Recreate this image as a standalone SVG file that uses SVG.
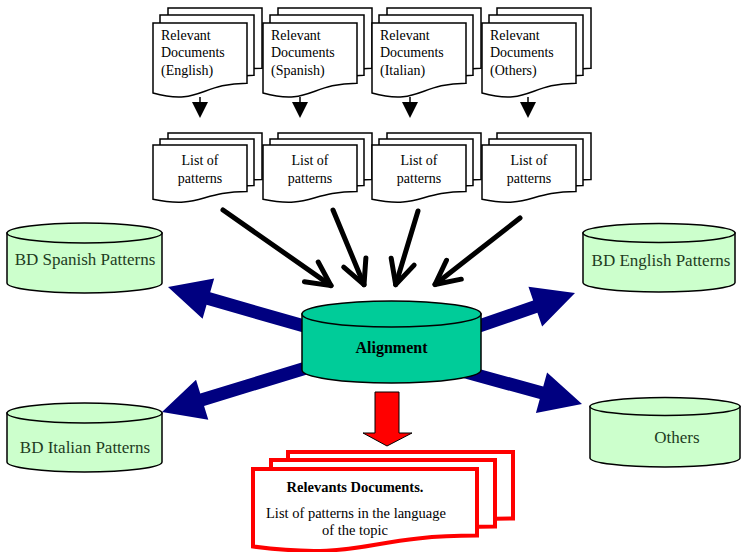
<svg xmlns="http://www.w3.org/2000/svg" width="742" height="552" viewBox="0 0 742 552">
<style>
.doc{fill:#fff;stroke:#000;stroke-width:1.5}
.rdoc{fill:#fff;stroke:#f00;stroke-width:4}
.t{font-family:"Liberation Serif","Times New Roman",serif;font-size:14px;fill:#000}
.c{text-anchor:middle}
.db{fill:#ccffcc;stroke:#000;stroke-width:1.5}
.dbt{font-family:"Liberation Serif","Times New Roman",serif;font-size:17px;fill:#1e3c1e;text-anchor:middle}
.navy{fill:#000080}
.blk{stroke:#000;stroke-width:5;fill:none;stroke-linecap:round}
.sm{stroke:#000;stroke-width:1.5}
</style>
<defs>
<marker id="open" markerUnits="userSpaceOnUse" viewBox="-30 -16 34 32" markerWidth="34" markerHeight="32" refX="0" refY="0" orient="auto">
<path d="M-24,-12 L0,0 L-24,12" fill="none" stroke="#000" stroke-width="5" stroke-linecap="round" stroke-linejoin="round"/>
</marker>
<path id="topdoc" d="M0,0 H94 V60.2 C47,60.2 47,83 0,70 Z"/>
<path id="listdoc" d="M0,0 H94 V46.5 C47,46.5 47,64.2 0,54.2 Z"/>
</defs>
<g id="connectors">
<g id="small-arrows">
<line class="sm" x1="200" y1="97" x2="200" y2="104"/><polygon points="192,102 208,102 200,118"/>
<line class="sm" x1="300" y1="97" x2="300" y2="104"/><polygon points="292,102 308,102 300,118"/>
<line class="sm" x1="410" y1="97" x2="410" y2="104"/><polygon points="402,102 418,102 410,118"/>
<line class="sm" x1="528" y1="97" x2="528" y2="104"/><polygon points="520,102 536,102 528,118"/>
</g>
<g id="pattern-arrows">
<line class="blk" x1="223" y1="210" x2="331" y2="285.6" marker-end="url(#open)"/>
<line class="blk" x1="333" y1="210" x2="364" y2="284.7" marker-end="url(#open)"/>
<line class="blk" x1="418" y1="211" x2="395.7" y2="284.6" marker-end="url(#open)"/>
<line class="blk" x1="520" y1="218" x2="435" y2="284.5" marker-end="url(#open)"/>
</g>
<g id="navy-arrows">
<polygon class="navy" transform="translate(168,287) rotate(196)" points="0,0 -42,-21 -42,-6.5 -160,-6.5 -160,6.5 -42,6.5 -42,21"/>
<polygon class="navy" transform="translate(575,293) rotate(-19)" points="0,0 -42,-21 -42,-6.5 -160,-6.5 -160,6.5 -42,6.5 -42,21"/>
<polygon class="navy" transform="translate(162,412) rotate(163)" points="0,0 -42,-21 -42,-6.5 -160,-6.5 -160,6.5 -42,6.5 -42,21"/>
<polygon class="navy" transform="translate(582,404) rotate(15.4)" points="0,0 -42,-21 -42,-6.5 -160,-6.5 -160,6.5 -42,6.5 -42,21"/>
</g>
<polygon id="red-arrow" points="375,392 399,392 399,433 412,433 387,446 363,433 375,433" fill="#f00" stroke="#000" stroke-width="1"/>
</g>
<g id="doc-english">
<use href="#topdoc" class="doc" x="168" y="8"/><use href="#topdoc" class="doc" x="160" y="15"/><use href="#topdoc" class="doc" x="153" y="23"/>
<text class="t" x="161" y="39.5">Relevant</text><text class="t" x="161" y="57">Documents</text><text class="t" x="161" y="74.5">(English)</text>
</g>
<g id="doc-spanish">
<use href="#topdoc" class="doc" x="278" y="8"/><use href="#topdoc" class="doc" x="270" y="15"/><use href="#topdoc" class="doc" x="263" y="23"/>
<text class="t" x="271" y="39.5">Relevant</text><text class="t" x="271" y="57">Documents</text><text class="t" x="271" y="74.5">(Spanish)</text>
</g>
<g id="doc-italian">
<use href="#topdoc" class="doc" x="387" y="8"/><use href="#topdoc" class="doc" x="379" y="15"/><use href="#topdoc" class="doc" x="372" y="23"/>
<text class="t" x="380" y="39.5">Relevant</text><text class="t" x="380" y="57">Documents</text><text class="t" x="380" y="74.5">(Italian)</text>
</g>
<g id="doc-others">
<use href="#topdoc" class="doc" x="497" y="8"/><use href="#topdoc" class="doc" x="489" y="15"/><use href="#topdoc" class="doc" x="482" y="23"/>
<text class="t" x="490" y="39.5">Relevant</text><text class="t" x="490" y="57">Documents</text><text class="t" x="490" y="74.5">(Others)</text>
</g>
<g id="list-english">
<use href="#listdoc" class="doc" x="168" y="133"/><use href="#listdoc" class="doc" x="160" y="139"/><use href="#listdoc" class="doc" x="153" y="145"/>
<text class="t c" x="200" y="165">List of</text><text class="t c" x="200" y="183">patterns</text>
</g>
<g id="list-spanish">
<use href="#listdoc" class="doc" x="278" y="133"/><use href="#listdoc" class="doc" x="270" y="139"/><use href="#listdoc" class="doc" x="263" y="145"/>
<text class="t c" x="310" y="165">List of</text><text class="t c" x="310" y="183">patterns</text>
</g>
<g id="list-italian">
<use href="#listdoc" class="doc" x="387" y="133"/><use href="#listdoc" class="doc" x="379" y="139"/><use href="#listdoc" class="doc" x="372" y="145"/>
<text class="t c" x="419" y="165">List of</text><text class="t c" x="419" y="183">patterns</text>
</g>
<g id="list-others">
<use href="#listdoc" class="doc" x="497" y="133"/><use href="#listdoc" class="doc" x="489" y="139"/><use href="#listdoc" class="doc" x="482" y="145"/>
<text class="t c" x="529" y="165">List of</text><text class="t c" x="529" y="183">patterns</text>
</g>
<g id="db-spanish">
<path class="db" d="M7,233 V283 A77.5,10 0 0 0 162,283 V233 Z"/><ellipse class="db" cx="84.5" cy="233" rx="77.5" ry="10"/>
<text class="dbt" x="85" y="265">BD Spanish Patterns</text>
</g>
<g id="db-english">
<path class="db" d="M583,233 V282.5 A76,9.5 0 0 0 735,282.5 V233 Z"/><ellipse class="db" cx="659" cy="233" rx="76" ry="9.5"/>
<text class="dbt" x="661" y="266">BD English Patterns</text>
</g>
<g id="db-italian">
<path class="db" d="M7,413 V462 A77.5,10 0 0 0 162,462 V413 Z"/><ellipse class="db" cx="84.5" cy="413" rx="77.5" ry="10"/>
<text class="dbt" x="85" y="453">BD Italian Patterns</text>
</g>
<g id="db-others">
<path class="db" d="M590,406.5 V458 A75,9 0 0 0 740,458 V406.5 Z"/><ellipse class="db" cx="665" cy="406.5" rx="75" ry="9"/>
<text class="dbt" x="677" y="443">Others</text>
</g>
<g id="alignment">
<path d="M302,314 V370 A89.5,13 0 0 0 481,370 V314 Z" fill="#00cc99" stroke="#000" stroke-width="1.5"/>
<ellipse cx="391.5" cy="314" rx="89.5" ry="13" fill="#00cc99" stroke="#000" stroke-width="1.5"/>
<text x="391.5" y="353" text-anchor="middle" font-family="Liberation Serif, Times New Roman, serif" font-size="16" font-weight="bold">Alignment</text>
</g>
<g id="result-doc">
<path class="rdoc" d="M288,452 H513 V518.6 C400.5,518.6 400.5,543.9 288,529.5 Z"/>
<path class="rdoc" d="M271,460 H495 V526.6 C383,526.6 383,551.9 271,537.5 Z"/>
<path class="rdoc" d="M253,469 H477 V535.6 C365,535.6 365,560.9 253,546.5 Z"/>
<text class="t c" x="355" y="492" font-size="14.5" font-weight="bold" style="font-size:14.5px">Relevants Documents.</text>
<text class="t c" x="356" y="518" style="font-size:14.5px">List of patterns in the language</text>
<text class="t c" x="355" y="535" style="font-size:14.5px">of the topic</text>
</g>
</svg>
